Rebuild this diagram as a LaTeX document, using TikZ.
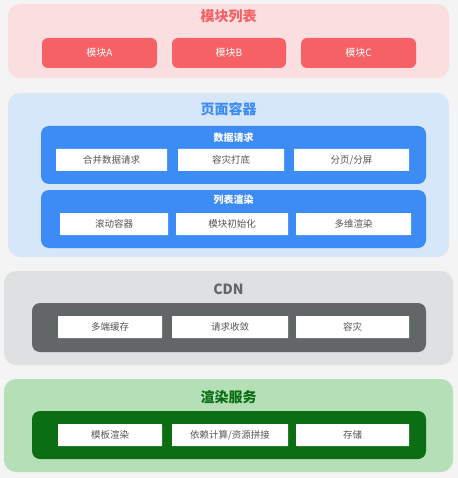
\documentclass[tikz,border=0pt]{standalone}
\usepackage{fontspec}
\setmainfont{Noto Sans CJK SC}
\usetikzlibrary{backgrounds}
\definecolor{pagebg}{HTML}{F4F4F4}
\definecolor{pinkbg}{HTML}{FBDFE0}
\definecolor{pinkfg}{HTML}{F56165}
\definecolor{bluebg}{HTML}{D6E7F9}
\definecolor{bluefg}{HTML}{3D8BF5}
\definecolor{greybg}{HTML}{DFE0E1}
\definecolor{greyfg}{HTML}{636667}
\definecolor{greenbg}{HTML}{B5E0B7}
\definecolor{greenfg}{HTML}{0B6E12}
\definecolor{itemtxt}{HTML}{555555}

\begin{document}
\begin{tikzpicture}[x=1pt,y=-1pt,
		layer/.style={draw=none,rounded corners=12pt,inner sep=0pt},
		panel/.style={draw=none,rounded corners=8pt,inner sep=0pt},
		ttl/.style={inner sep=0pt,font=\fontsize{14}{16}\selectfont\bfseries},
		subttl/.style={inner sep=0pt,text=white,font=\fontsize{10}{12}\selectfont\bfseries},
		module/.style={fill=pinkfg,draw=none,rounded corners=6pt,text=white,minimum height=30pt,font=\fontsize{10}{12}\selectfont},
		item/.style={fill=white,draw=none,rounded corners=0.5pt,text=itemtxt,minimum height=22pt,font=\fontsize{9.5}{11}\selectfont},
		background rectangle/.style={fill=pagebg}, show background rectangle,
		]
		\useasboundingbox (0,0) rectangle (457,478);

		% module list
		\node[layer,fill=pinkbg,minimum width=441pt,minimum height=74pt] (lst) at (228.5,41) {};
		\node[ttl,text=pinkfg] (lsttitle) at (228.5,16) {模块列表};
		\node[module,minimum width=115pt] (ma) at (99.5,53) {模块A};
		\node[module,minimum width=114pt] (mb) at (229,53) {模块B};
		\node[module,minimum width=115pt] (mc) at (358.5,53) {模块C};

		% page container
		\node[layer,fill=bluebg,minimum width=441pt,minimum height=164pt] (page) at (228.5,175) {};
		\node[ttl,text=bluefg] (pagetitle) at (228.5,109) {页面容器};
		\node[panel,fill=bluefg,minimum width=385pt,minimum height=58pt] (req) at (233.5,155) {};
		\node[subttl] (reqtitle) at (233.5,138) {数据请求};
		\node[item,minimum width=111pt] (r1) at (111.5,160) {合并数据请求};
		\node[item,minimum width=106pt] (r2) at (231,160) {容灾打底};
		\node[item,minimum width=115pt] (r3) at (351.5,160) {分页/分屏};
		\node[panel,fill=bluefg,minimum width=385pt,minimum height=58pt] (rnd) at (233.5,219) {};
		\node[subttl] (rndtitle) at (233.5,200) {列表渲染};
		\node[item,minimum width=108pt] (l1) at (114,224) {滚动容器};
		\node[item,minimum width=112pt] (l2) at (232,224) {模块初始化};
		\node[item,minimum width=115pt] (l3) at (353.5,224) {多维渲染};

		% cdn
		\node[layer,fill=greybg,minimum width=449pt,minimum height=94pt] (cdn) at (228.5,318) {};
		\node[ttl,text=greyfg] (cdntitle) at (228.5,289) {CDN};
		\node[panel,fill=greyfg,minimum width=394pt,minimum height=49pt] (cdnin) at (229,327.5) {};
		\node[item,minimum width=104pt] (c1) at (110,327) {多端缓存};
		\node[item,minimum width=116pt] (c2) at (230,327) {请求收敛};
		\node[item,minimum width=113pt] (c3) at (352.5,327) {容灾};

		% render service
		\node[layer,fill=greenbg,minimum width=449pt,minimum height=93pt] (srv) at (228.5,425.5) {};
		\node[ttl,text=greenfg] (srvtitle) at (228.5,397) {渲染服务};
		\node[panel,fill=greenfg,minimum width=394pt,minimum height=48pt] (srvin) at (229,435) {};
		\node[item,minimum width=104pt] (s1) at (110,435) {模板渲染};
		\node[item,minimum width=116pt] (s2) at (230,435) {依赖计算/资源拼接};
		\node[item,minimum width=113pt] (s3) at (352.5,435) {存储};
\end{tikzpicture}
\end{document}
